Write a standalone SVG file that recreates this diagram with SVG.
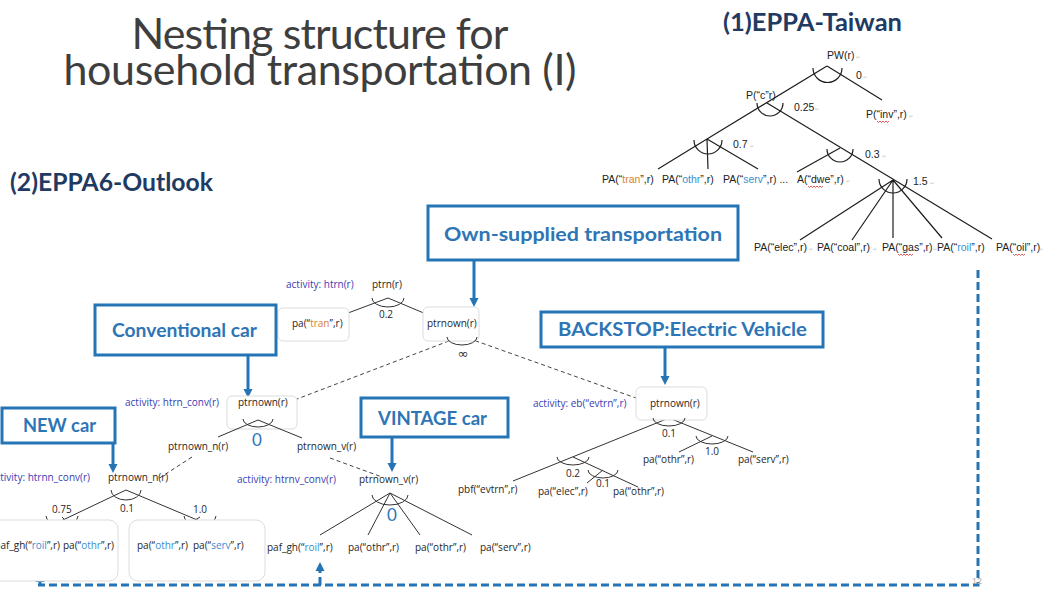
<svg xmlns="http://www.w3.org/2000/svg" width="1046" height="589" viewBox="0 0 1046 589">
  <style>
    .title { font-family: "Lato", "Open Sans", sans-serif; font-weight: 400; font-size: 43px; fill: #3e3e3e; }
    .head { font-family: "Lato", "Open Sans", sans-serif; font-weight: 700; font-size: 24px; fill: #1f3a63; }
    .tw { font-family: "Liberation Sans", Arial, sans-serif; font-size: 10.5px; fill: #222; }
    .pm { font-family: "DejaVu Sans", sans-serif; font-size: 5px; fill: #c4c4c4; }
    .gm { font-family: "Open Sans", sans-serif; font-size: 10px; fill: #262626; }
    .act { fill: #3b3bb3; }
    .num { font-family: "Lato", "Open Sans", sans-serif; font-size: 17px; fill: #2e75b6; }
    .blue { fill: #3a8ed0; }
    .orange { fill: #d9822b; }
    .call rect { fill: #fff; stroke: #2574b5; stroke-width: 3; }
    .call text { font-family: "Lato", "Open Sans", sans-serif; font-weight: 700; font-size: 19px; fill: #2e75b6; }
    .nbox { fill: #fff; stroke: #dcdcdc; stroke-width: 1; }
    .tl { stroke: #1e1e1e; stroke-width: 1.2; fill: none; }
    .ml { stroke: #333; stroke-width: 1; fill: none; }
    .dl { stroke: #444; stroke-width: 1; fill: none; stroke-dasharray: 4 3; }
    .arr { stroke: #2574b5; stroke-width: 3; fill: none; marker-end: url(#ah); }
    .link { stroke: #2574b5; stroke-width: 3; fill: none; stroke-dasharray: 8 4; }
    .sq { stroke: #e03030; stroke-width: 0.8; fill: none; }
  </style>
  <defs>
    <marker id="ah" markerUnits="userSpaceOnUse" markerWidth="10" markerHeight="10" refX="1" refY="5" orient="auto">
      <path d="M0,0.5 L9,5 L0,9.5 z" fill="#2574b5"/>
    </marker>
  </defs>

  <rect width="1046" height="589" fill="#fff"/>

  <!-- slide title and section headings -->
  <g id="title">
    <text class="title" x="320" y="49" text-anchor="middle" textLength="377">Nesting structure for</text>
    <text class="title" x="320" y="85" text-anchor="middle" textLength="513">household transportation (I)</text>
  </g>
  <g id="heading-taiwan">
    <text class="head" x="723" y="31" textLength="179" lengthAdjust="spacingAndGlyphs">(1)EPPA-Taiwan</text>
  </g>
  <g id="heading-outlook">
    <text class="head" x="10" y="191" textLength="203" lengthAdjust="spacingAndGlyphs">(2)EPPA6-Outlook</text>
  </g>

  <!-- connectors: tree branches, nest arcs, callout arrows -->
  <g id="connectors">
    <!-- EPPA-Taiwan tree -->
    <path class="tl" d="M827,66 L707,139 M827,66 L882,100 M767,103 L992,239"/>
    <path class="tl" d="M707,139 L658,169 M707,139 L708,169 M707,139 L758,169"/>
    <path class="tl" d="M840,148 L797,172"/>
    <path class="tl" d="M893,180 L800,240 M893,180 L852,240 M893,180 L893,238 M893,180 L942,238"/>
    <path class="tl" d="M813,68 A14.5 14.5 0 0 0 842,68"/>
    <path class="tl" d="M757,103 A13 13 0 0 0 783,103"/>
    <path class="tl" d="M694,140 A14 14 0 0 0 722,140"/>
    <path class="tl" d="M827,149 A13 13 0 0 0 853,149"/>
    <path class="tl" d="M879,179 A14 14 0 0 0 907,179"/>

    <!-- EPPA6 household transport tree -->
    <path class="ml" d="M388,298 L332,319 M388,298 L438,319"/>
    <path class="ml" d="M372,298 A16 9 0 0 0 404,298"/>
    <path class="dl" d="M462,336 L297,399 M462,336 L636,398"/>
    <path class="dl" d="M192,457 L158,479 M330,458 L382,477"/>
    <!-- new car nest -->
    <path class="ml" d="M126,490 L25,538 M62,517 L82,537 M126,490 L240,538 M200,517 L167,537"/>
    <path class="ml" d="M111,490 A15 10 0 0 0 141,490"/>
    <path class="ml" d="M46,516 A16 9 0 0 0 78,516"/>
    <path class="ml" d="M184,516 A16 9 0 0 0 216,516"/>
    <!-- vintage car nest -->
    <path class="ml" d="M390,493 L320,535 M390,493 L368,535 M390,493 L420,535 M390,493 L472,535"/>
    <path class="ml" d="M372,495 A18 10 0 0 0 408,495"/>
    <!-- electric vehicle nest -->
    <path class="ml" d="M669,418 L513,481 M669,418 L753,452 M712,436 L679,452 M573,457 L638,487 M603,470 L587,483"/>
    <path class="ml" d="M696,436 A16 8 0 0 0 728,436"/>
    <path class="ml" d="M557,457 A16 8 0 0 0 589,457"/>
    <path class="ml" d="M588,470 A15 8 0 0 0 618,470"/>

    <!-- callout arrows -->
    <line class="arr" x1="474" y1="260" x2="474" y2="299"/>
    <line class="arr" x1="248" y1="355" x2="248" y2="390"/>
    <line class="arr" x1="113" y1="443" x2="113" y2="465"/>
    <line class="arr" x1="392" y1="437" x2="392" y2="464"/>
    <line class="arr" x1="665" y1="347" x2="665" y2="377"/>

    <!-- refined-oil link back to EPPA6 -->
    <path class="link" d="M978,270 L978,585 L38,585"/>
    <line class="arr" x1="40" y1="585" x2="40" y2="581"/>
    <line class="arr" x1="320" y1="585" x2="320" y2="570" stroke-dasharray="8 4"/>
  </g>

  <!-- EPPA-Taiwan nodes -->
  <g id="tw-pw"><text class="tw" x="827" y="59">PW(r)</text><text class="pm" x="856" y="59">↵</text></g>
  <g id="tw-sigma0"><text class="tw" x="856" y="79">0</text><text class="pm" x="863" y="79">↵</text></g>
  <g id="tw-pc"><text class="tw" x="746" y="99">P(“c”r)</text></g>
  <g id="tw-sigma025"><text class="tw" x="794" y="111">0.25</text><text class="pm" x="815" y="111">↵</text></g>
  <g id="tw-inv">
    <text class="tw" x="866" y="118">P(“inv”,r)</text><text class="pm" x="909" y="118">↵</text>
    <path class="sq" d="M877,121 l1.5,1.5 l1.5,-1.5 l1.5,1.5 l1.5,-1.5 l1.5,1.5 l1.5,-1.5 l1.5,1.5 l1.5,-1.5"/>
  </g>
  <g id="tw-sigma07"><text class="tw" x="733" y="148">0.7</text><text class="pm" x="750" y="148">↵</text></g>
  <g id="tw-sigma03"><text class="tw" x="865" y="158">0.3</text><text class="pm" x="882" y="158">↵</text></g>
  <g id="tw-sigma15"><text class="tw" x="913" y="185">1.5</text><text class="pm" x="930" y="185">↵</text></g>
  <g id="tw-tran"><text class="tw" x="602" y="183">PA(“<tspan class="orange">tran</tspan>”,r)</text></g>
  <g id="tw-othr"><text class="tw" x="662" y="183">PA(“<tspan class="blue">othr</tspan>”,r)</text></g>
  <g id="tw-serv"><text class="tw" x="723" y="183">PA(“<tspan class="blue">serv</tspan>”,r) ...</text></g>
  <g id="tw-dwe">
    <text class="tw" x="797" y="183">A(“dwe”,r)</text><text class="pm" x="846" y="183">↵</text>
    <path class="sq" d="M808,186 l1.5,1.5 l1.5,-1.5 l1.5,1.5 l1.5,-1.5 l1.5,1.5 l1.5,-1.5 l1.5,1.5 l1.5,-1.5 l1.5,1.5 l1.5,-1.5"/>
  </g>
  <g id="tw-elec"><text class="tw" x="754" y="251">PA(“elec”,r)</text><text class="pm" x="809" y="251">↵</text></g>
  <g id="tw-coal"><text class="tw" x="817" y="251">PA(“coal”,r)</text><text class="pm" x="873" y="251">↵</text></g>
  <g id="tw-gas">
    <text class="tw" x="882" y="251">PA(“gas”,r)</text><text class="pm" x="933" y="251">↵</text>
    <path class="sq" d="M898,254 l1.5,1.5 l1.5,-1.5 l1.5,1.5 l1.5,-1.5 l1.5,1.5 l1.5,-1.5 l1.5,1.5 l1.5,-1.5 l1.5,1.5 l1.5,-1.5"/>
  </g>
  <g id="tw-roil"><text class="tw" x="937" y="251">PA(“<tspan class="blue">roil</tspan>”,r)</text></g>
  <g id="tw-oil">
    <text class="tw" x="996" y="251">PA(“oil”,r)</text><text class="pm" x="1039" y="251">↵</text>
    <path class="sq" d="M1013,254 l1.5,1.5 l1.5,-1.5 l1.5,1.5 l1.5,-1.5 l1.5,1.5 l1.5,-1.5 l1.5,1.5 l1.5,-1.5"/>
  </g>

  <!-- EPPA6 nodes -->
  <g id="ptrn">
    <text class="gm act" x="286" y="288">activity: htrn(r)</text>
    <text class="gm" x="372" y="288">ptrn(r)</text>
    <text class="gm" x="386" y="318" text-anchor="middle">0.2</text>
  </g>
  <g id="pa-tran">
    <rect class="nbox" x="278" y="308" width="71" height="33" rx="5"/>
    <text class="gm" x="292" y="327">pa(“<tspan class="orange">tran</tspan>”,r)</text>
  </g>
  <g id="ptrnown">
    <rect class="nbox" x="423" y="307" width="56" height="34" rx="5"/>
    <text class="gm" x="427" y="327">ptrnown(r)</text>
    <path class="ml" d="M447,337 A15 8 0 0 0 477,337"/>
    <text x="463" y="358" text-anchor="middle" font-family="DejaVu Sans, sans-serif" font-size="13" fill="#333">∞</text>
  </g>
  <g id="ptrnown-conv">
    <rect class="nbox" x="227" y="396" width="70" height="33" rx="5"/>
    <text class="gm act" x="125" y="406">activity: htrn_conv(r)</text>
    <text class="gm" x="238" y="406">ptrnown(r)</text>
    <path class="ml" d="M258,420 L218,437 M258,420 L302,438 M243,419 A15 8 0 0 0 273,419"/>
    <text class="num" x="257" y="446" text-anchor="middle">0</text>
    <text class="gm" x="168" y="450">ptrnown_n(r)</text>
    <text class="gm" x="297" y="450">ptrnown_v(r)</text>
  </g>
  <g id="ptrnown-new">
    <text class="gm act" x="90" y="481" text-anchor="end">activity: htrnn_conv(r)</text>
    <text class="gm" x="108" y="481">ptrnown_n(r)</text>
    <text class="gm" x="52" y="513">0.75</text>
    <text class="gm" x="120" y="512">0.1</text>
    <text class="gm" x="193" y="513">1.0</text>
  </g>
  <g id="new-fuel">
    <rect class="nbox" x="-10" y="520" width="128" height="61" rx="9"/>
    <text class="gm" x="60" y="549" text-anchor="end">paf_gh(“<tspan class="blue">roil</tspan>”,r)</text>
    <text class="gm" x="63" y="549">pa(“<tspan class="blue">othr</tspan>”,r)</text>
  </g>
  <g id="new-serv">
    <rect class="nbox" x="129" y="520" width="136" height="61" rx="9"/>
    <text class="gm" x="137" y="549">pa(“<tspan class="blue">othr</tspan>”,r)</text>
    <text class="gm" x="193" y="549">pa(“<tspan class="blue">serv</tspan>”,r)</text>
  </g>
  <g id="ptrnown-vintage">
    <text class="gm act" x="237" y="483">activity: htrnv_conv(r)</text>
    <text class="gm" x="359" y="483">ptrnown_v(r)</text>
    <text class="num" x="392" y="521" text-anchor="middle">0</text>
    <text class="gm" x="267" y="551">paf_gh(“<tspan class="blue">roil</tspan>”,r)</text>
    <text class="gm" x="348" y="551">pa(“othr”,r)</text>
    <text class="gm" x="415" y="551">pa(“othr”,r)</text>
    <text class="gm" x="480" y="551">pa(“serv”,r)</text>
  </g>
  <g id="ptrnown-ev">
    <rect class="nbox" x="636" y="387" width="71" height="33" rx="5"/>
    <text class="gm act" x="533" y="407">activity: eb(“evtrn”,r)</text>
    <text class="gm" x="650" y="407">ptrnown(r)</text>
    <path class="ml" d="M653,418 A16 8 0 0 0 685,418"/>
    <text class="gm" x="669" y="437" text-anchor="middle">0.1</text>
    <text class="gm" x="712" y="455" text-anchor="middle">1.0</text>
    <text class="gm" x="643" y="463">pa(“othr”,r)</text>
    <text class="gm" x="738" y="463">pa(“serv”,r)</text>
    <text class="gm" x="573" y="477" text-anchor="middle">0.2</text>
    <text class="gm" x="603" y="487" text-anchor="middle">0.1</text>
    <text class="gm" x="458" y="493">pbf(“evtrn”,r)</text>
    <text class="gm" x="538" y="495">pa(“elec”,r)</text>
    <text class="gm" x="613" y="495">pa(“othr”,r)</text>
  </g>

  <!-- callouts -->
  <g id="call-own" class="call">
    <rect x="428" y="206" width="310" height="54"/>
    <text x="444" y="241" textLength="278" lengthAdjust="spacingAndGlyphs">Own-supplied transportation</text>
  </g>
  <g id="call-conv" class="call">
    <rect x="95" y="305" width="181" height="50"/>
    <text x="112" y="337" textLength="145" lengthAdjust="spacingAndGlyphs">Conventional car</text>
  </g>
  <g id="call-new" class="call">
    <rect x="2" y="408" width="113" height="35"/>
    <text x="23" y="432" textLength="73" lengthAdjust="spacingAndGlyphs">NEW car</text>
  </g>
  <g id="call-vintage" class="call">
    <rect x="361" y="398" width="147" height="39"/>
    <text x="378" y="425" textLength="109" lengthAdjust="spacingAndGlyphs">VINTAGE car</text>
  </g>
  <g id="call-backstop" class="call">
    <rect x="541" y="312" width="282" height="35"/>
    <text x="558" y="336" textLength="249" lengthAdjust="spacingAndGlyphs">BACKSTOP:Electric Vehicle</text>
  </g>

  <!-- page number -->
  <g id="page-number">
    <text x="972" y="584" font-family="Liberation Sans, sans-serif" font-size="9" fill="#a8a8a8">12</text>
  </g>
</svg>
